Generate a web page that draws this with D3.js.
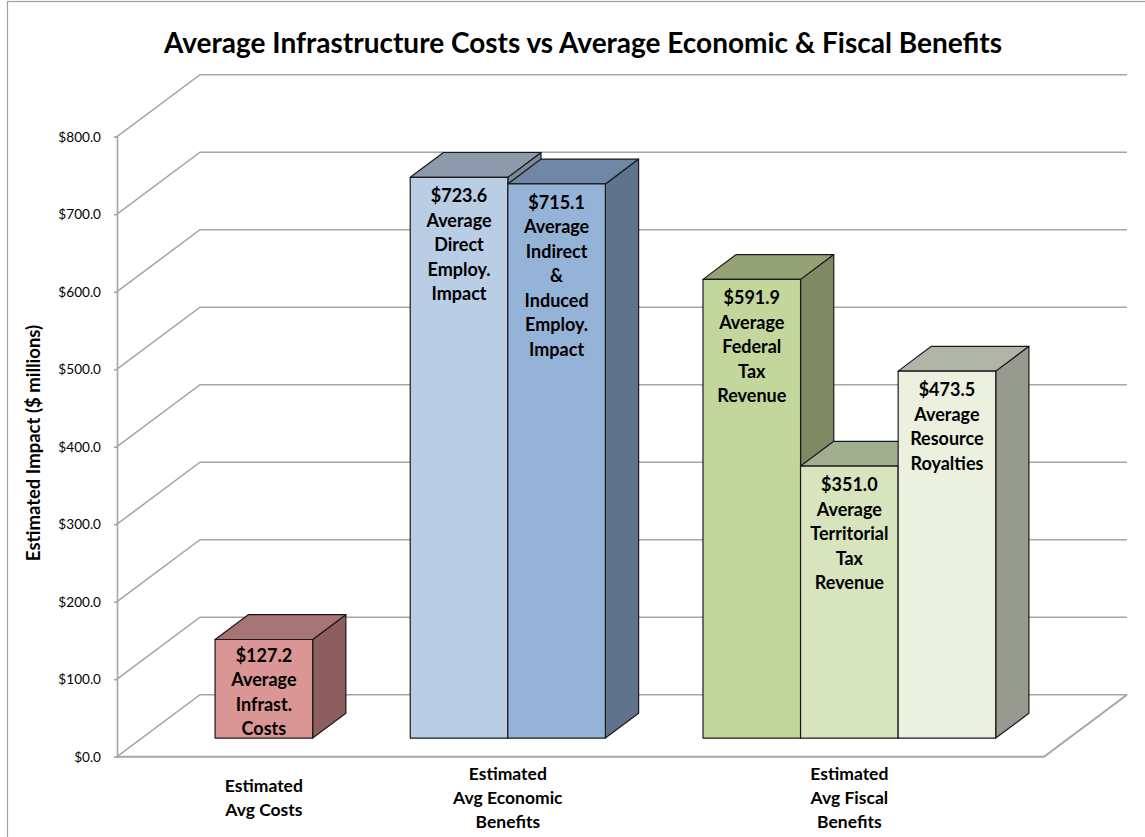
<!DOCTYPE html>
<html>
<head>
<meta charset="utf-8">
<script src="https://cdn.jsdelivr.net/npm/d3@7"></script>
<style>
  html, body { margin: 0; padding: 0; background: #fff; }
  svg { display: block; }
  text { font-family: Lato, "Open Sans", sans-serif; fill: #000; }
</style>
</head>
<body>
<svg id="chart" width="1145" height="837"></svg>
<script>
// ---------- data ----------
const title = "Average Infrastructure Costs vs Average Economic & Fiscal Benefits";
const yAxisTitle = "Estimated Impact ($ millions)";
const categories = [
  ["Estimated", "Avg Costs"],
  ["Estimated", "Avg Economic", "Benefits"],
  ["Estimated", "Avg Fiscal", "Benefits"]
];
const costValues = [127.2];
const economicValues = [723.6, 715.1];
const fiscalValues = [591.9, 351.0, 473.5];
const costNames = [["Average", "Infrast.", "Costs"]];
const economicNames = [["Average", "Direct", "Employ.", "Impact"], ["Average", "Indirect", "&", "Induced", "Employ.", "Impact"]];
const fiscalNames = [["Average", "Federal", "Tax", "Revenue"], ["Average", "Territorial", "Tax", "Revenue"], ["Average", "Resource", "Royalties"]];
const yTicks = [0, 100, 200, 300, 400, 500, 600, 700, 800];

// ---------- styles ----------
const palette = [
  { front: "#d99694", top: "#a67472", side: "#8c5f5e" },
  { front: "#b9cde5", top: "#8c9aab", side: "#7b8aa0" },
  { front: "#95b3d7", top: "#6f87a5", side: "#5f738d" },
  { front: "#c3d69b", top: "#95a276", side: "#7f8a62" },
  { front: "#d7e4bd", top: "#a3ad8f", side: "#8f987c" },
  { front: "#ebf1de", top: "#b1b5a7", side: "#979a8f" }
];
const gridColor = "#a6a6a6";

// ---------- layout ----------
const svg = d3.select("#chart");
const frontLeft = 117, frontRight = 1044;
const DX = 83, DY = -62;          // oblique depth offset of the floor
const zFront = 0.3, zBack = 0.7;  // bar depth within the floor

const groups = [
  { cat: categories[0], values: costValues, names: costNames },
  { cat: categories[1], values: economicValues, names: economicNames },
  { cat: categories[2], values: fiscalValues, names: fiscalNames }
];

// build slot list (bars + one empty slot between groups)
const bars = [];
let slot = 0;
groups.forEach((g, gi) => {
  g.slots = [];
  g.values.forEach((v, bi) => {
    bars.push({ value: v, names: g.names[bi], slot: slot, color: palette[bars.length] });
    g.slots.push(slot);
    slot++;
  });
  if (gi < groups.length - 1) slot++;
});
const nSlots = slot;

const x = d3.scaleBand().domain(d3.range(nSlots)).range([frontLeft, frontRight])
  .paddingInner(0).paddingOuter(0.75);
const y = d3.scaleLinear().domain([0, 800]).range([756.7, 136.7]);

const P = (xf, v, z) => [xf + z * DX, y(v) + z * DY];
const poly = pts => pts.map(p => p.join(",")).join(" ");

// chart border
svg.append("rect").attr("x", 7.5).attr("y", 1.5).attr("width", 1145).attr("height", 850)
  .attr("fill", "none").attr("stroke", "#a0a0a0").attr("stroke-width", 1.2);

// title
svg.append("text").attr("x", 583).attr("y", 42).attr("text-anchor", "middle")
  .attr("dominant-baseline", "central").attr("font-size", 28).attr("font-weight", "bold")
  .text(title);

// walls: back gridlines, side-wall lines
const grid = svg.append("g").attr("stroke", gridColor).attr("stroke-width", 1.6).attr("fill", "none");
yTicks.forEach(t => {
  const a = P(frontLeft, t, 0), b = P(frontLeft, t, 1), c = P(frontRight, t, 1);
  grid.append("polyline").attr("points", poly([a, b, c]));
});
// floor front and right edges
grid.append("polyline").attr("points", poly([P(frontLeft, 0, 0), P(frontRight, 0, 0), P(frontRight, 0, 1)]))
  .attr("stroke-width", 2);

// y axis
const axisG = svg.append("g").attr("transform", `translate(${frontLeft},0)`)
  .call(d3.axisLeft(y).tickValues(yTicks).tickFormat(d3.format("$,.1f")).tickSize(3).tickPadding(13));
axisG.select(".domain").attr("stroke", gridColor).attr("stroke-width", 1.6);
axisG.selectAll(".tick line").attr("stroke", gridColor).attr("stroke-width", 1.6);
axisG.selectAll(".tick text").attr("font-family", "Lato, sans-serif").attr("font-size", 13.6).attr("fill", "#000");

// y axis title
svg.append("text").attr("transform", "translate(33,443) rotate(-90)").attr("text-anchor", "middle")
  .attr("dominant-baseline", "central").attr("font-size", 18.5).attr("font-weight", "bold")
  .text(yAxisTitle);

// bars
const lineH = 24.5;
const barG = svg.append("g");
bars.forEach(b => {
  const x0 = x(b.slot), x1 = x0 + x.bandwidth();
  const g = barG.append("g").attr("stroke", "#1a1a1a").attr("stroke-width", 1.2).attr("stroke-linejoin", "round");
  g.append("polygon").attr("fill", b.color.side)
    .attr("points", poly([P(x1, 0, zFront), P(x1, b.value, zFront), P(x1, b.value, zBack), P(x1, 0, zBack)]));
  g.append("polygon").attr("fill", b.color.top)
    .attr("points", poly([P(x0, b.value, zFront), P(x1, b.value, zFront), P(x1, b.value, zBack), P(x0, b.value, zBack)]));
  g.append("polygon").attr("fill", b.color.front)
    .attr("points", poly([P(x0, 0, zFront), P(x1, 0, zFront), P(x1, b.value, zFront), P(x0, b.value, zFront)]));

  const lines = [d3.format("$,.1f")(b.value)].concat(b.names);
  const topY = P(x0, b.value, zFront)[1];
  const botY = P(x0, 0, zFront)[1];
  const startY = Math.min(topY + 18, botY - 10 - (lines.length - 1) * lineH);
  const cx = (P(x0, 0, zFront)[0] + P(x1, 0, zFront)[0]) / 2;
  const t = barG.append("text").attr("text-anchor", "middle").attr("font-size", 18).attr("font-weight", "bold");
  lines.forEach((ln, i) => {
    t.append("tspan").attr("x", cx).attr("y", startY + i * lineH).attr("dominant-baseline", "central").text(ln);
  });
});

// category labels
groups.forEach(g => {
  const xa = x(g.slots[0]), xb = x(g.slots[g.slots.length - 1]) + x.bandwidth();
  const cx = (xa + xb) / 2 + zFront * DX;
  const n = g.cat.length;
  const t = svg.append("text").attr("text-anchor", "middle").attr("font-size", 17.5).attr("font-weight", "bold");
  g.cat.forEach((ln, i) => {
    t.append("tspan").attr("x", cx).attr("y", 797 + (i - (n - 1) / 2) * 24)
      .attr("dominant-baseline", "central").text(ln);
  });
});
</script>
</body>
</html>
